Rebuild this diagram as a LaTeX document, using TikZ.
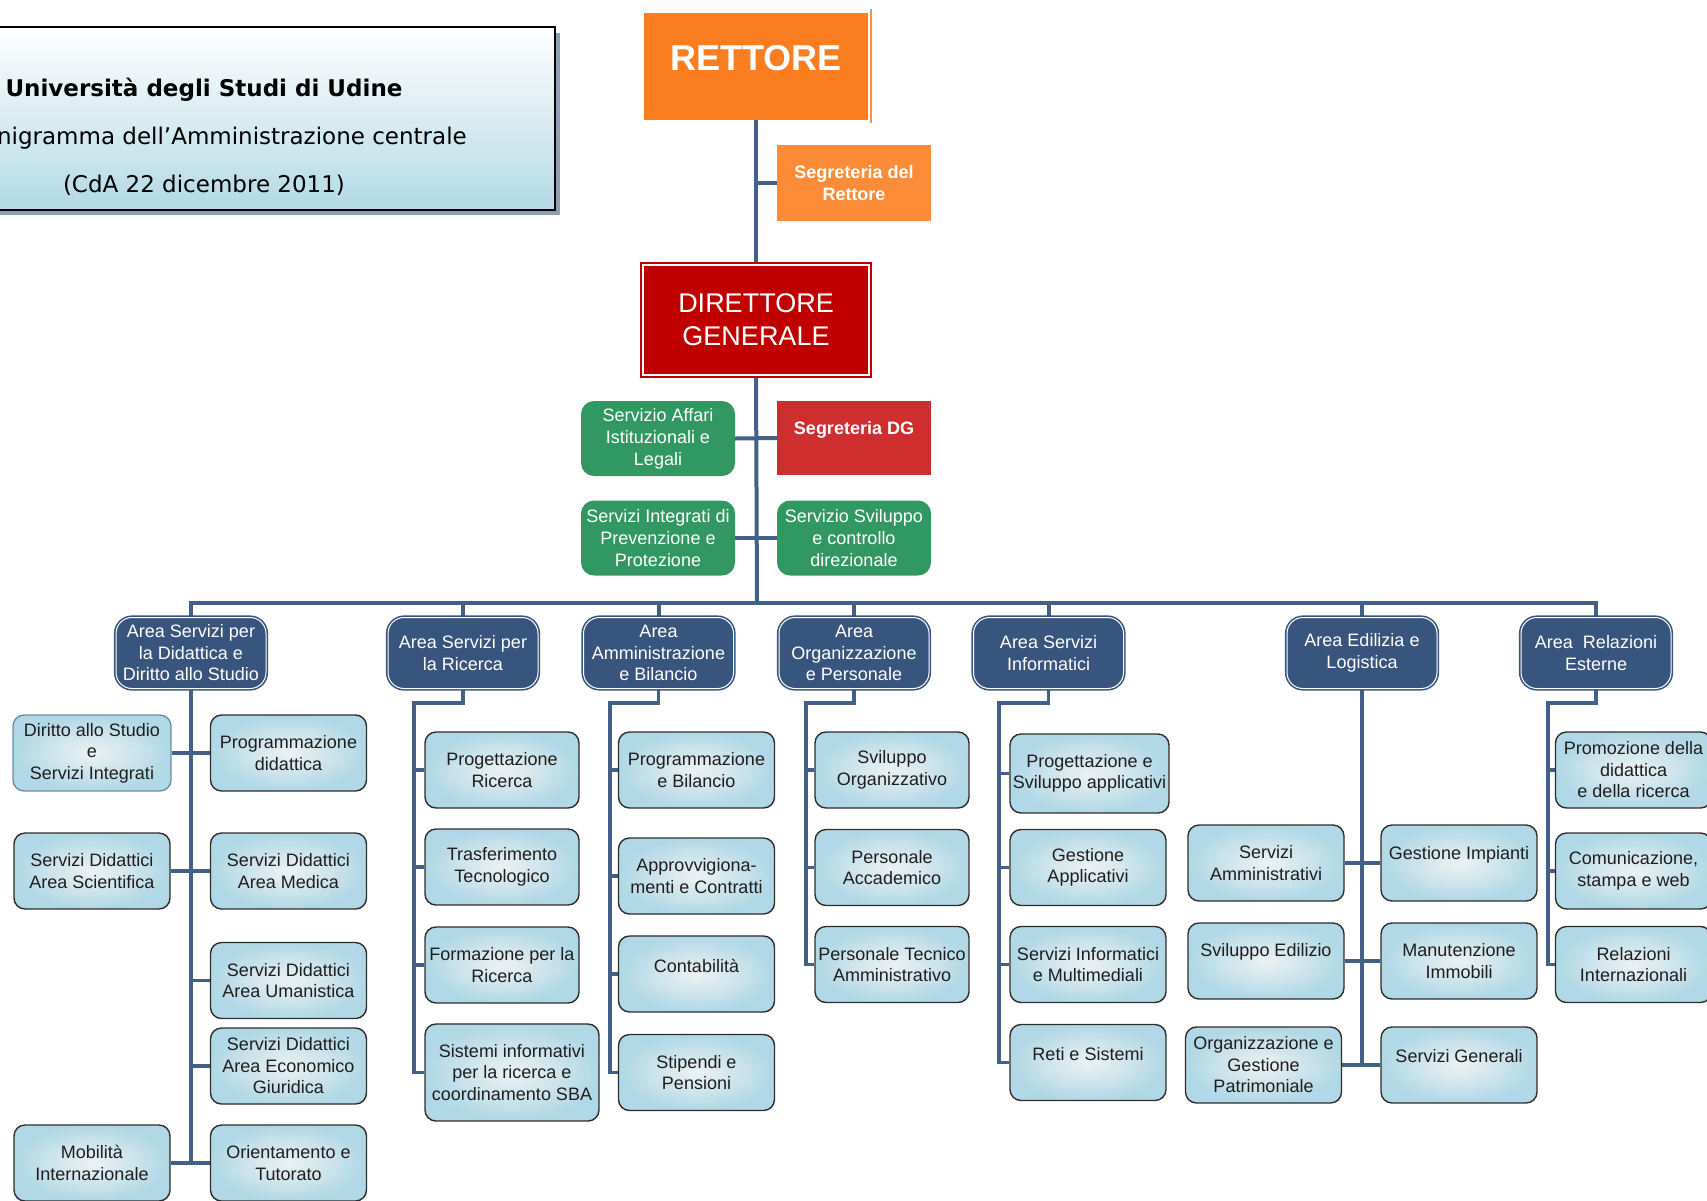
\documentclass[tikz,border=0pt]{standalone}
\usepackage{fontspec}
\setmainfont{Liberation Sans}
\newfontfamily\titlefont{DejaVu Sans}
\usetikzlibrary{backgrounds}
\definecolor{rettcol}{RGB}{250,125,32}
\definecolor{segrcol}{RGB}{252,140,56}
\definecolor{dgcol}{RGB}{192,0,0}
\definecolor{sdgcol}{RGB}{207,46,46}
\definecolor{greencol}{RGB}{50,152,98}
\definecolor{areacol}{RGB}{56,86,125}
\definecolor{linecol}{RGB}{66,96,136}
\definecolor{lbin}{RGB}{236,242,243}
\definecolor{lbout}{RGB}{176,216,230}
\definecolor{boxedge}{RGB}{45,45,45}
\definecolor{blueedge}{RGB}{110,140,170}
\definecolor{txtcol}{RGB}{30,30,30}
\definecolor{titlebot}{RGB}{178,218,230}
\definecolor{shadowcol}{RGB}{140,160,178}
\begin{document}
\begin{tikzpicture}[x=1pt,y=-1pt,
  txt/.style={font=\fontsize{18}{21.5}\selectfont},
  conn/.style={draw=linecol,line width=4pt},
  subconn/.style={draw=linecol,line width=3.2pt},
  lbox/.style={rectangle,rounded corners=11pt,draw=boxedge,line width=1.4pt,
    inner color=lbin,outer color=lbout,minimum width=156pt,minimum height=76pt,
    align=center,txt,text=txtcol,inner sep=1pt},
  abox/.style={rectangle,rounded corners=16pt,fill=areacol,draw=areacol,
    double=white,double distance=1pt,line width=1.6pt,
    minimum width=150pt,minimum height=71pt,text=white,align=center,txt,inner sep=1pt},
  gbox/.style={rectangle,rounded corners=13pt,fill=greencol,minimum width=154pt,
    minimum height=75pt,text=white,align=center,font=\fontsize{18}{22}\selectfont,inner sep=1pt},
  redbox/.style={rectangle,fill=sdgcol,minimum width=154pt,minimum height=74pt,
    text=white,font=\fontsize{18}{22}\selectfont\bfseries,inner sep=1pt},
  orbox/.style={rectangle,fill=segrcol,minimum width=154pt,minimum height=76pt,
    text=white,align=center,font=\fontsize{18}{22}\selectfont\bfseries,inner sep=1pt},
  raise/.style={text height=13pt,text depth=#1},
  titlebox/.style={rectangle,draw=black,line width=2.5pt,top color=white,
    bottom color=titlebot,minimum width=703pt,minimum height=183pt,inner sep=0pt}
]
\useasboundingbox (0,0) rectangle (1707,1200);
\clip (0,0) rectangle (1707,1200);

% ---------- title ----------
\fill[shadowcol] (-150,33) rectangle (560,215);
\node[titlebox] (tb) at (203.5,118.5) {};
\node[font=\titlefont\fontsize{23}{48}\selectfont,align=center,inner sep=0pt] (tt) at (204,136.5)
  {\textbf{Università degli Studi di Udine}\\Organigramma dell’Amministrazione centrale\\(CdA 22 dicembre 2011)};

% ---------- top ----------
\node[rectangle,fill=rettcol,minimum width=224pt,minimum height=107pt,text=white,
  font=\fontsize{36}{40}\selectfont\bfseries,text height=26pt,text depth=18pt,inner sep=0pt]
  (rett) at (756,66.5) {RETTORE};
\draw[rettcol!85,line width=1.5pt] ([xshift=3pt,yshift=4pt]rett.north east) -- ([xshift=3pt,yshift=-3pt]rett.south east);
\node[orbox] (sr) at (854,183) {Segreteria del\\Rettore};
\node[rectangle,fill=dgcol,draw=dgcol,double=white,double distance=1.2pt,line width=2.2pt,
  minimum width=226pt,minimum height=110pt,text=white,align=center,
  font=\fontsize{27}{33}\selectfont,inner sep=0pt] (dg) at (756,320) {DIRETTORE\\GENERALE};
\node[gbox] (af) at (658,438.5) {Servizio Affari\\Istituzionali e\\Legali};
\node[redbox,raise=20pt] (sdg) at (854,438) {Segreteria DG};
\node[gbox] (spi) at (658,538) {Servizi Integrati di\\Prevenzione e\\Protezione};
\node[gbox] (ssc) at (854,538) {Servizio Sviluppo\\e controllo\\direzionale};
\coordinate (bus) at (757,603);

% ---------- areas ----------
\node[abox] (a1) at (191,653) {Area Servizi per\\la Didattica e\\Diritto allo Studio};
\node[abox] (a2) at (463,653) {Area Servizi per\\la Ricerca};
\node[abox] (a3) at (658.5,653) {Area\\Amministrazione\\e Bilancio};
\node[abox] (a4) at (854,653) {Area\\Organizzazione\\e Personale};
\node[abox] (a5) at (1048.5,653) {Area Servizi\\Informatici};
\node[abox] (a6) at (1362,653) {Area Edilizia e\\Logistica};
\node[abox] (a7) at (1596,653) {Area~~Relazioni\\Esterne};

% ---------- area 1 ----------
\node[lbox,draw=blueedge,minimum width=158pt] (dss) at (92,753) {Diritto allo Studio\\e\\Servizi Integrati};
\node[lbox] (pd) at (288.5,753) {Programmazione\\didattica};
\node[lbox] (sdas) at (92,871) {Servizi Didattici\\Area Scientifica};
\node[lbox] (sdam) at (288.5,871) {Servizi Didattici\\Area Medica};
\node[lbox] (sdau) at (288.5,980.5) {Servizi Didattici\\Area Umanistica};
\node[lbox] (sdae) at (288.5,1066) {Servizi Didattici\\Area Economico\\Giuridica};
\node[lbox] (mi) at (92,1163) {Mobilità\\Internazionale};
\node[lbox] (ot) at (288.5,1163) {Orientamento e\\Tutorato};

% ---------- area 2 ----------
\node[lbox,minimum width=154pt] (pr) at (502,770) {Progettazione\\Ricerca};
\node[lbox,minimum width=154pt] (tt2) at (502,867) {Trasferimento\\Tecnologico};
\node[lbox,minimum width=154pt] (fr) at (502,965) {Formazione per la\\Ricerca};
\node[lbox,minimum width=174pt,minimum height=97pt] (si) at (512,1072.5) {Sistemi informativi\\per la ricerca e\\coordinamento SBA};

% ---------- area 3 ----------
\node[lbox] (pb) at (696.5,770) {Programmazione\\e Bilancio};
\node[lbox] (ac) at (696.5,876) {Approvvigiona-\\menti e Contratti};
\node[lbox,raise=16pt] (co) at (696.5,974) {Contabilità};
\node[lbox] (sp) at (696.5,1072.5) {Stipendi e\\Pensioni};

% ---------- area 4 ----------
\node[lbox,minimum width=154pt] (so) at (892,770) {Sviluppo\\Organizzativo};
\node[lbox,minimum width=154pt] (pa) at (892,867.5) {Personale\\Accademico};
\node[lbox,minimum width=154pt] (pta) at (892,964.5) {Personale Tecnico\\Amministrativo};

% ---------- area 5 ----------
\node[lbox,minimum width=159pt,minimum height=79pt] (psa) at (1089.5,773.5) {Progettazione e\\Sviluppo applicativi};
\node[lbox] (ga) at (1088,867.5) {Gestione\\Applicativi};
\node[lbox] (sim) at (1088,964.5) {Servizi Informatici\\e Multimediali};
\node[lbox,raise=18pt] (rs) at (1088,1062.5) {Reti e Sistemi};

% ---------- area 6 ----------
\node[lbox] (sa) at (1266,863) {Servizi\\Amministrativi};
\node[lbox,raise=20pt] (gi) at (1459,863) {Gestione Impianti};
\node[lbox,raise=22pt] (se) at (1266,961) {Sviluppo Edilizio};
\node[lbox] (mim) at (1459,961) {Manutenzione\\Immobili};
\node[lbox] (ogp) at (1263.5,1065) {Organizzazione e\\Gestione\\Patrimoniale};
\node[lbox,raise=18pt] (sg) at (1459,1065) {Servizi Generali};

% ---------- area 7 ----------
\node[lbox] (pdr) at (1633.5,770) {Promozione della\\didattica\\e della ricerca};
\node[lbox] (csw) at (1633.5,871) {Comunicazione,\\stampa e web};
\node[lbox] (ri) at (1633.5,964.5) {Relazioni\\Internazionali};

% ---------- connectors ----------
\begin{scope}[on background layer]
\draw[conn] (rett.south) -- (dg.north);
\draw[conn] (rett.south |- sr.west) -- (sr.west);
\draw[conn] (dg.south) -- (bus);
\draw[conn] (af.east) -- (sdg.west);
\draw[conn] (spi.east) -- (ssc.west);
\draw[conn] (a1.north) |- (bus) -| (a7.north);
\foreach \a in {a2,a3,a4,a5,a6} \draw[conn] (\a.north) -- (\a.north |- bus);

% area 1
\draw[conn] (a1.south) -- (a1.south |- mi.east);
\draw[subconn] (dss.east) -- (pd.west);
\draw[subconn] (sdas.east) -- (sdam.west);
\draw[subconn] (a1.south |- sdau.west) -- (sdau.west);
\draw[subconn] (a1.south |- sdae.west) -- (sdae.west);
\draw[subconn] (mi.east) -- (ot.west);

% area 2
\coordinate (k2) at (414,703);
\draw[subconn] (a2.south) |- (k2) |- (si.west);
\foreach \b in {pr,tt2,fr} \draw[subconn] (k2 |- \b.west) -- (\b.west);
% area 3
\coordinate (k3) at (610,703);
\draw[subconn] (a3.south) |- (k3) |- (sp.west);
\foreach \b in {pb,ac,co} \draw[subconn] (k3 |- \b.west) -- (\b.west);
% area 4
\coordinate (k4) at (806,703);
\draw[subconn] (a4.south) |- (k4) |- (pta.west);
\foreach \b in {so,pa} \draw[subconn] (k4 |- \b.west) -- (\b.west);
% area 5
\coordinate (k5) at (999,703);
\draw[subconn] (a5.south) |- (k5) |- (rs.west);
\foreach \b in {psa,ga,sim} \draw[subconn] (k5 |- \b.west) -- (\b.west);
% area 6
\draw[conn] (a6.south) -- (a6.south |- ogp.east);
\draw[subconn] (sa.east) -- (gi.west);
\draw[subconn] (se.east) -- (mim.west);
\draw[subconn] (ogp.east) -- (sg.west);
% area 7
\coordinate (k7) at (1548,703);
\draw[subconn] (a7.south) |- (k7) |- (ri.west);
\foreach \b in {pdr,csw} \draw[subconn] (k7 |- \b.west) -- (\b.west);
\end{scope}
\end{tikzpicture}
\end{document}
